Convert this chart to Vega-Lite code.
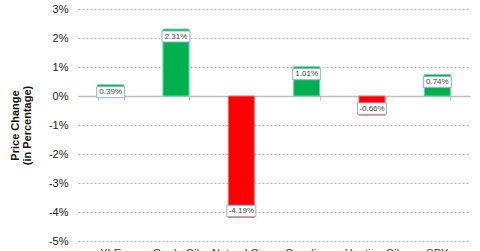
{
  "$schema": "https://vega.github.io/schema/vega-lite/v6.json",
  "width": 392,
  "height": 232,
  "autosize": {"type": "none"},
  "padding": {"left": 78, "top": 9, "right": 10, "bottom": 10},
  "background": "white",
  "config": {
    "view": {"stroke": null},
    "font": "Liberation Sans"
  },
  "data": {
    "values": [
      {"asset": "XLE", "value": 0.39},
      {"asset": "Crude Oil", "value": 2.31},
      {"asset": "Natural Gas", "value": -4.19},
      {"asset": "Gasoline", "value": 1.01},
      {"asset": "Heating Oil", "value": -0.66},
      {"asset": "SPY", "value": 0.74}
    ]
  },
  "encoding": {
    "x": {
      "field": "asset", "type": "nominal", "sort": null,
      "scale": {"paddingInner": 0.6, "paddingOuter": 0.3},
      "axis": null
    },
    "y": {
      "field": "value", "type": "quantitative",
      "scale": {"domain": [-5, 3], "nice": false},
      "axis": {
        "values": [-5, -4, -3, -2, -1, 0, 1, 2, 3],
        "labelExpr": "datum.value + '%'",
        "labelOverlap": false,
        "grid": true,
        "domain": false, "ticks": false, "labelPadding": 10,
        "labelFontSize": 11, "labelColor": "#222222",
        "gridColor": "#b0b0b0", "gridDash": [2, 2], "gridWidth": 1,
        "title": ["Price Change", "(in Percentage)"],
        "titleFontSize": 11, "titleFontWeight": "bold", "titleColor": "#111111",
        "titlePadding": 16, "titleLineHeight": 12
      }
    }
  },
  "resolve": {"axis": {"x": "independent"}},
  "layer": [
    {
      "mark": {"type": "bar", "strokeWidth": 1},
      "encoding": {
        "x": {
          "field": "asset", "type": "nominal", "sort": null,
          "axis": {
            "orient": "bottom",
            "title": null, "domain": false, "ticks": false, "grid": false,
            "labelAngle": 0, "labelPadding": 6, "labelFontSize": 11,
            "labelColor": "#333333", "labelFont": "Liberation Sans"
          }
        },
        "color": {"condition": {"test": "datum.value < 0", "value": "#FF0000"}, "value": "#00B050"},
        "stroke": {"condition": {"test": "datum.value < 0", "value": "#ff7070"}, "value": "#70d8a0"}
      }
    },
    {
      "mark": {"type": "tick", "opacity": 0},
      "encoding": {
        "x": {
          "field": "asset", "type": "nominal", "sort": null,
          "axis": {
            "orient": "bottom",
            "title": null, "labels": false, "grid": false,
            "domain": true, "domainColor": "#bfbfbf", "domainWidth": 1.5,
            "ticks": true, "tickBand": "extent", "tickSize": 4, "tickColor": "#bfbfbf",
            "offset": -145
          }
        }
      }
    },
    {
      "transform": [{"filter": "datum.value > 0"}],
      "mark": {"type": "point", "shape": "M-1,-0.393H1V0.393H-1Z", "size": 784, "filled": false, "fill": "white", "fillOpacity": 1, "stroke": "#8fb0d8", "strokeWidth": 1, "opacity": 1, "yOffset": 7.5}
    },
    {
      "transform": [{"filter": "datum.value < 0"}],
      "mark": {"type": "point", "shape": "M-1,-0.393H1V0.393H-1Z", "size": 841, "filled": false, "fill": "white", "fillOpacity": 1, "stroke": "#8fb0d8", "strokeWidth": 1, "opacity": 1, "yOffset": -6.5}
    },
    {
      "transform": [
        {"filter": "datum.value > 0"},
        {"calculate": "replace(format(datum.value, '.2f'), '\u2212', '-') + '%'", "as": "label"}
      ],
      "mark": {"type": "text", "fontSize": 8, "color": "#404040", "yOffset": 7.5, "baseline": "middle"},
      "encoding": {"text": {"field": "label"}}
    },
    {
      "transform": [
        {"filter": "datum.value < 0"},
        {"calculate": "replace(format(datum.value, '.2f'), '\u2212', '-') + '%'", "as": "label"}
      ],
      "mark": {"type": "text", "fontSize": 8, "color": "#404040", "yOffset": -6.5, "baseline": "middle"},
      "encoding": {"text": {"field": "label"}}
    }
  ]
}
